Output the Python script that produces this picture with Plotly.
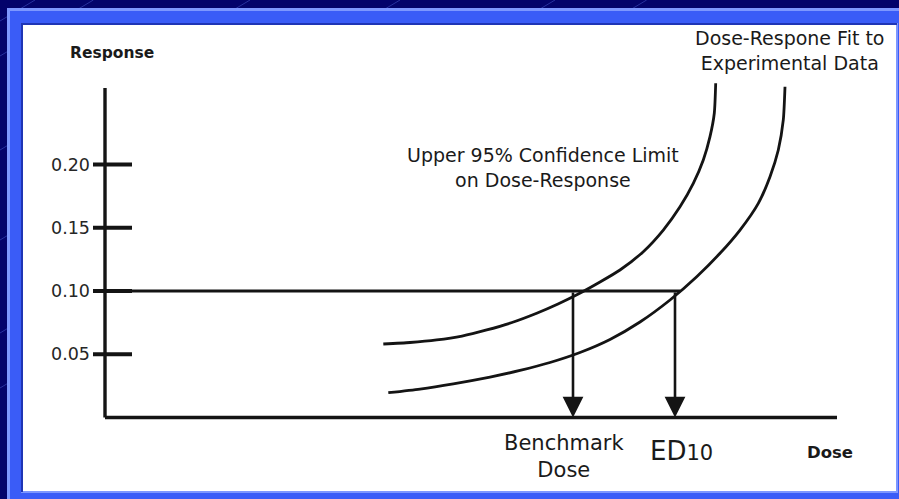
import numpy as np
import plotly.graph_objects as go

# ---------------- data ----------------
response_ticks = [0.05, 0.10, 0.15, 0.20]
response_tick_labels = ["0.05", "0.10", "0.15", "0.20"]
benchmark_response = 0.10
benchmark_dose = 4.68
ed10_dose = 5.70
dose_axis_max = 7.32
response_axis_max = 0.2605

# Upper 95% confidence limit on dose-response
ucl_dose = [2.783, 3.05, 3.317, 3.57, 3.817, 4.07, 4.317, 4.53, 4.733, 4.95, 5.15, 5.383, 5.583,
            5.75, 5.883, 5.983, 6.05, 6.093, 6.107]
ucl_resp = [0.0581, 0.0593, 0.0613, 0.0644, 0.0692, 0.0751, 0.0824, 0.0897, 0.0976, 0.1071,
            0.1166, 0.1311, 0.1482, 0.1666, 0.1851, 0.2036, 0.2220, 0.2405, 0.2642]

# Dose-response fit to experimental data
fit_dose = [2.833, 3.15, 3.483, 3.85, 4.15, 4.45, 4.75, 5.05, 5.35, 5.65, 5.917, 6.15, 6.35,
            6.533, 6.65, 6.733, 6.783, 6.80]
fit_resp = [0.0196, 0.0225, 0.0266, 0.0320, 0.0372, 0.0435, 0.0514, 0.0617, 0.0755, 0.0929,
            0.1113, 0.1298, 0.1482, 0.1693, 0.1904, 0.2115, 0.2352, 0.2615]

# ---------------- styling ----------------
W, H = 899, 499
ML, MR, MT, MB = 22, 2, 24, 7
INK = "#141414"
TXT = "#1a1a1a"
FONT = "DejaVu Sans"
NAVY = "#03036b"
FRAME = "#3a5cf7"
FRAME_LIGHT = "#7d97ff"
FRAME_DARK = "#1f35b5"

tick_left, tick_right = -0.12, 0.27
line_end = float(np.interp(benchmark_response, fit_resp, fit_dose))

fig = go.Figure()

line_style = dict(color=INK, width=3.4)
# axes drawn at dose 0 / response 0
fig.add_trace(go.Scatter(x=[0, 0], y=[0, response_axis_max], mode="lines",
                         line=line_style, hoverinfo="skip"))
fig.add_trace(go.Scatter(x=[0, dose_axis_max], y=[0, 0], mode="lines",
                         line=line_style, hoverinfo="skip"))
# tick marks crossing the response axis
tx, ty = [], []
for t in response_ticks:
    tx += [tick_left, tick_right, None]
    ty += [t, t, None]
fig.add_trace(go.Scatter(x=tx, y=ty, mode="lines", line=dict(color=INK, width=3.8),
                         hoverinfo="skip"))
# benchmark response line
fig.add_trace(go.Scatter(x=[tick_left, line_end], y=[benchmark_response, benchmark_response],
                         mode="lines", line=dict(color=INK, width=2.8), hoverinfo="skip"))
# curves
fig.add_trace(go.Scatter(x=ucl_dose, y=ucl_resp, mode="lines",
                         line=dict(color=INK, width=2.8, shape="spline", smoothing=0.6),
                         hoverinfo="skip"))
fig.add_trace(go.Scatter(x=fit_dose, y=fit_resp, mode="lines",
                         line=dict(color=INK, width=2.8, shape="spline", smoothing=0.6),
                         hoverinfo="skip"))

annotations = []
for t, lab in zip(response_ticks, response_tick_labels):
    annotations.append(dict(x=-0.135, y=t, xref="x", yref="y", text=lab, showarrow=False,
                            xanchor="right", yanchor="middle",
                            font=dict(family=FONT, size=17.5, color="#262626")))
# arrows from the benchmark response down to the dose axis
for d in (benchmark_dose, ed10_dose):
    annotations.append(dict(x=d, y=0, ax=d, ay=benchmark_response, xref="x", yref="y",
                            axref="x", ayref="y", text="", showarrow=True,
                            arrowhead=2, arrowsize=1.6, arrowwidth=2.6, arrowcolor=INK,
                            standoff=0))
annotations += [
    dict(x=0.07, y=0.288, xref="x", yref="y", text="Response", showarrow=False,
         font=dict(family=FONT, size=15.5, color=TXT, weight="bold")),
    dict(x=6.84, y=0.290, xref="x", yref="y", text="Dose-Respone Fit to<br>Experimental Data",
         showarrow=False, font=dict(family=FONT, size=19, color=TXT)),
    dict(x=4.38, y=0.1976, xref="x", yref="y", text="Upper 95% Confidence Limit<br>on Dose-Response",
         showarrow=False, font=dict(family=FONT, size=19, color=TXT)),
    dict(x=4.59, y=-0.031, xref="x", yref="y", text="Benchmark<br>Dose",
         showarrow=False, font=dict(family=FONT, size=21, color=TXT)),
    dict(x=5.76, y=-0.0265, xref="x", yref="y",
         text="ED<span style='font-size:21px'>10</span>",
         showarrow=False, font=dict(family=FONT, size=26, color=TXT)),
    dict(x=7.25, y=-0.028, xref="x", yref="y", text="Dose", showarrow=False,
         font=dict(family=FONT, size=16.5, color=TXT, weight="bold")),
]


def px2paper(px, py):
    return (px - ML) / (W - ML - MR), (H - MB - py) / (H - MT - MB)


shapes = []
# faint diagonal streaks on the navy background
for c in [21, 56, 150, 240, 333, 388]:
    x0, y0 = px2paper(0, c)
    x1, y1 = px2paper(c / 0.6, 0)
    shapes.append(dict(type="line", xref="paper", yref="paper", x0=x0, y0=y0, x1=x1, y1=y1,
                       line=dict(color="rgba(110,135,255,0.35)", width=1), layer="below"))
# blue frame
fx0, fy0 = px2paper(7, 8)
fx1, fy1 = px2paper(905, 505)
shapes.append(dict(type="rect", xref="paper", yref="paper", x0=fx0, y0=fy1, x1=fx1, y1=fy0,
                   fillcolor=FRAME, line=dict(width=0), layer="below"))
lx0, ly0 = px2paper(7, 11)
shapes.append(dict(type="rect", xref="paper", yref="paper", x0=fx0, y0=ly0, x1=fx1, y1=fy0,
                   fillcolor=FRAME_LIGHT, line=dict(width=0), layer="below"))
lx1, _ = px2paper(10, 0)
shapes.append(dict(type="rect", xref="paper", yref="paper", x0=fx0, y0=fy1, x1=lx1, y1=fy0,
                   fillcolor=FRAME_LIGHT, line=dict(width=0), layer="below"))
# white panel with inset edges
shapes.append(dict(type="rect", xref="paper", yref="paper", x0=0, y0=0, x1=1, y1=1,
                   fillcolor="white", line=dict(color=FRAME_LIGHT, width=2), layer="below"))
shapes.append(dict(type="path", xref="paper", yref="paper", path="M 0,0 L 0,1 L 1,1",
                   line=dict(color=FRAME_DARK, width=2), layer="below"))

x_lo = (ML - 105) / 100
x_hi = (W - MR - 105) / 100
y_lo = (417.5 - (H - MB)) / 1265
y_hi = (417.5 - MT) / 1265

fig.update_layout(
    width=W, height=H, autosize=False,
    margin=dict(l=ML, r=MR, t=MT, b=MB, pad=0),
    paper_bgcolor=NAVY, plot_bgcolor="rgba(0,0,0,0)",
    showlegend=False,
    xaxis=dict(range=[x_lo, x_hi], visible=False, fixedrange=True),
    yaxis=dict(range=[y_lo, y_hi], visible=False, fixedrange=True),
    annotations=annotations, shapes=shapes,
)

fig.write_html("out.html", config={"displayModeBar": False},
               post_script="document.body.style.margin='0';document.body.style.overflow='hidden';")
